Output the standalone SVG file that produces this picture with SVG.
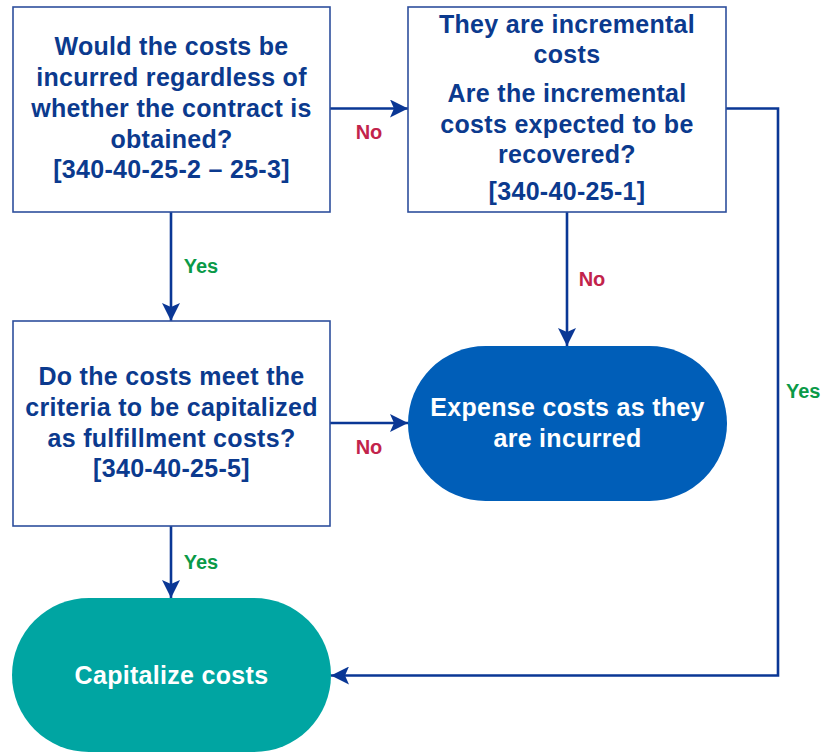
<svg xmlns="http://www.w3.org/2000/svg" width="821" height="752" viewBox="0 0 821 752">
<style>
.box{fill:#ffffff;stroke:#2e4f9d;stroke-width:1.6}
.t{font-family:"Liberation Sans",Arial,sans-serif;font-weight:bold;font-size:25px;letter-spacing:0.3px;text-anchor:middle;fill:#0b3a8e}
.w{fill:#ffffff}
.lbl{font-family:"Liberation Sans",Arial,sans-serif;font-weight:bold;font-size:20px;text-anchor:middle}
.no{fill:#c2234b}
.yes{fill:#0a9a48}
.c{fill:none;stroke:#0a3795;stroke-width:2.6}
</style>
<defs>
<marker id="ah" markerUnits="userSpaceOnUse" markerWidth="18" markerHeight="18" refX="18" refY="9" orient="auto">
<path d="M0,0 L18,9 L0,18 L4,9 Z" fill="#0a3795"/>
</marker>
</defs>
<g id="connectors">
<path class="c" d="M330,108.5 H408" marker-end="url(#ah)"/>
<path class="c" d="M726,108.5 H778 V675.5 H331" marker-end="url(#ah)"/>
<path class="c" d="M171,212 V321" marker-end="url(#ah)"/>
<path class="c" d="M567,212 V346" marker-end="url(#ah)"/>
<path class="c" d="M330,423 H408" marker-end="url(#ah)"/>
<path class="c" d="M171,526 V598" marker-end="url(#ah)"/>
<text class="lbl no" x="369" y="139">No</text>
<text class="lbl yes" x="201" y="273">Yes</text>
<text class="lbl no" x="592" y="286">No</text>
<text class="lbl no" x="369" y="454">No</text>
<text class="lbl yes" x="201" y="569">Yes</text>
<text class="lbl yes" x="786" y="398" style="text-anchor:start">Yes</text>
</g>
<g id="q1">
<rect class="box" x="13" y="7" width="317" height="205"/>
<text class="t" x="171.5" y="55">Would the costs be</text>
<text class="t" x="171.5" y="86">incurred regardless of</text>
<text class="t" x="171.5" y="117">whether the contract is</text>
<text class="t" x="171.5" y="148">obtained?</text>
<text class="t" x="171.5" y="178">[340-40-25-2 – 25-3]</text>
</g>
<g id="q2">
<rect class="box" x="408" y="7" width="318" height="205"/>
<text class="t" x="567" y="33">They are incremental</text>
<text class="t" x="567" y="63">costs</text>
<text class="t" x="567" y="102">Are the incremental</text>
<text class="t" x="567" y="133">costs expected to be</text>
<text class="t" x="567" y="163">recovered?</text>
<text class="t" x="567" y="200">[340-40-25-1]</text>
</g>
<g id="q3">
<rect class="box" x="13" y="321" width="317" height="205"/>
<text class="t" x="171.5" y="385">Do the costs meet the</text>
<text class="t" x="171.5" y="416">criteria to be capitalized</text>
<text class="t" x="171.5" y="447">as fulfillment costs?</text>
<text class="t" x="171.5" y="477">[340-40-25-5]</text>
</g>
<g id="expense">
<rect x="408" y="346" width="319" height="155" rx="77.5" ry="77.5" fill="#005eb8"/>
<text class="t w" x="567.5" y="416">Expense costs as they</text>
<text class="t w" x="567.5" y="447">are incurred</text>
</g>
<g id="capitalize">
<rect x="12" y="598" width="319" height="154" rx="77" ry="77" fill="#00a5a2"/>
<text class="t w" x="171.5" y="684">Capitalize costs</text>
</g>
</svg>
